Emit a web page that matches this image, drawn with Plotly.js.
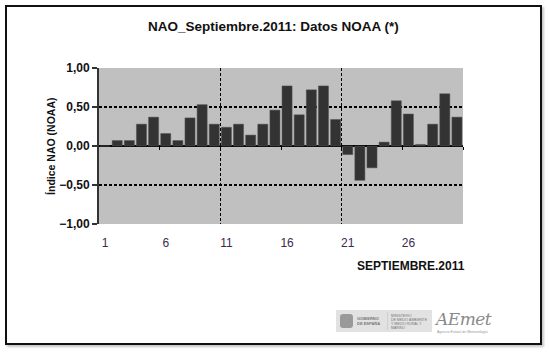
<!DOCTYPE html>
<html><head><meta charset="utf-8">
<script src="https://cdn.plot.ly/plotly-3.0.1.min.js"></script>
<style>
html,body{margin:0;padding:0;background:#fff;}
#wrap{position:relative;width:550px;height:353px;overflow:hidden;background:#fff;}
#chart{position:absolute;left:0;top:0;width:550px;height:353px;}
#frame{position:absolute;left:5px;top:5px;width:533px;height:336px;border:2px solid #111;box-shadow:2px 2px 2px #c8c8c8;pointer-events:none;}
#logo{position:absolute;left:336px;top:310px;width:96px;height:22px;background:#e2e2e2;font-family:"Liberation Sans",Arial,sans-serif;color:#777;}
#logo .emb{position:absolute;left:4px;top:4px;width:13px;height:14px;background:#9a9a9a;border-radius:3px;}
#logo .t1{position:absolute;left:21px;top:6px;font-size:4px;line-height:5px;font-weight:bold;}
#logo .sep{position:absolute;left:51px;top:2px;width:1px;height:18px;background:#cfcfcf;}
#logo .t2{position:absolute;left:55px;top:4px;font-size:3.5px;line-height:4px;}
#aemet{position:absolute;left:436px;top:309px;font-family:"DejaVu Serif",serif;font-style:italic;font-size:17px;color:#8a8a8a;letter-spacing:-0.5px;}
#aemet2{position:absolute;left:437px;top:330px;font-family:"Liberation Sans",Arial,sans-serif;font-size:3.5px;color:#999;}
</style></head>
<body>
<div id="wrap">
<div id="chart"></div>
<div id="frame"></div>
<div id="logo"><div class="emb"></div><div class="t1">GOBIERNO<br>DE ESPAÑA</div><div class="sep"></div><div class="t2">MINISTERIO<br>DE MEDIO AMBIENTE<br>Y MEDIO RURAL Y MARINO</div></div>
<div id="aemet">AEmet</div>
<div id="aemet2">Agencia Estatal de Meteorología</div>
</div>
<script>
var days = [1,2,3,4,5,6,7,8,9,10,11,12,13,14,15,16,17,18,19,20,21,22,23,24,25,26,27,28,29,30];
var naoValues = [0.00,0.07,0.07,0.28,0.37,0.16,0.07,0.36,0.53,0.28,0.24,0.28,0.14,0.28,0.46,0.77,0.40,0.72,0.77,0.34,-0.11,-0.44,-0.28,0.05,0.58,0.41,0.02,0.28,0.67,0.37];
var xTickVals = [1,6,11,16,21,26];
var xTickText = ["1","6","11","16","21","26"];
var yTickVals = [-1,-0.5,0,0.5,1];
var chartTitle = "NAO_Septiembre.2011: Datos NOAA (*)";
var yTitle = "Índice NAO (NOAA)";
var xTitle = "SEPTIEMBRE.2011";

var sans = '"Liberation Sans",Arial,sans-serif';

var trace = {
  type: 'bar', x: days, y: naoValues,
  marker: {color: '#333333', line: {color: '#555555', width: 0.5}},
  hoverinfo: 'x+y'
};

var layout = {
  width: 550, height: 353,
  margin: {l: 99, r: 87, t: 68, b: 129},
  paper_bgcolor: 'rgba(0,0,0,0)', plot_bgcolor: '#c0c0c0',
  separators: ',.',
  showlegend: false,
  bargap: 0.17,
  title: {text: '<b>' + chartTitle + '</b>', x: 0.497, xref: 'container', xanchor: 'center', y: 0.925, yref: 'container', yanchor: 'middle',
          font: {family: sans, size: 13.5, color: '#111'}},
  xaxis: {
    range: [0.5, 30.5], tickmode: 'array', tickvals: xTickVals, ticktext: xTickText,
    showgrid: false, zeroline: false, showline: false,
    ticks: 'outside', ticklen: 8, tickcolor: 'rgba(0,0,0,0)',
    tickfont: {family: sans, size: 12, color: '#3d2a4e'},
    minor: {tickmode: 'array', tickvals: [10.5, 20.5], showgrid: true, gridcolor: '#000', griddash: '3px,2px', gridwidth: 1.2, ticks: ''}
  },
  xaxis2: {
    overlaying: 'x', anchor: 'free', position: 0.5, side: 'bottom',
    range: [0.5, 30.5], tickmode: 'array', tickvals: [5.5, 10.5, 15.5, 20.5, 25.5, 30.5],
    ticks: 'outside', ticklen: 3, tickwidth: 1, tickcolor: '#000',
    showticklabels: false, showgrid: false, zeroline: false, showline: false
  },
  yaxis: {
    range: [-1, 1], tickmode: 'array', tickvals: yTickVals, tickformat: '.2f',
    showgrid: false, zeroline: true, zerolinecolor: '#000', zerolinewidth: 1.6,
    showline: true, linecolor: '#333', linewidth: 2,
    ticks: 'outside', ticklen: 5, tickwidth: 1.5, tickcolor: '#333',
    tickfont: {family: sans, size: 12, color: '#111', weight: 'bold'},
    minor: {tickmode: 'array', tickvals: [-0.5, 0.5], showgrid: true, gridcolor: '#000', griddash: '3px,2px', gridwidth: 1.2, ticks: ''}
  },
  annotations: [{
    text: '<b>' + xTitle + '</b>', xref: 'paper', yref: 'paper', x: 1.012, y: -0.27, xanchor: 'right', yanchor: 'middle',
    showarrow: false, font: {family: sans, size: 12, color: '#111'}
  }, {
    text: '<b>' + yTitle + '</b>', xref: 'paper', yref: 'paper', x: -0.132, y: 0.5, xanchor: 'center', yanchor: 'middle',
    textangle: -90, showarrow: false, font: {family: sans, size: 10.5, color: '#111'}
  }]
};

Plotly.newPlot('chart', [trace, {type:'bar', x: [], y: [], xaxis: 'x2', yaxis: 'y', hoverinfo: 'skip'}], layout, {staticPlot: true});
</script>
</body></html>
